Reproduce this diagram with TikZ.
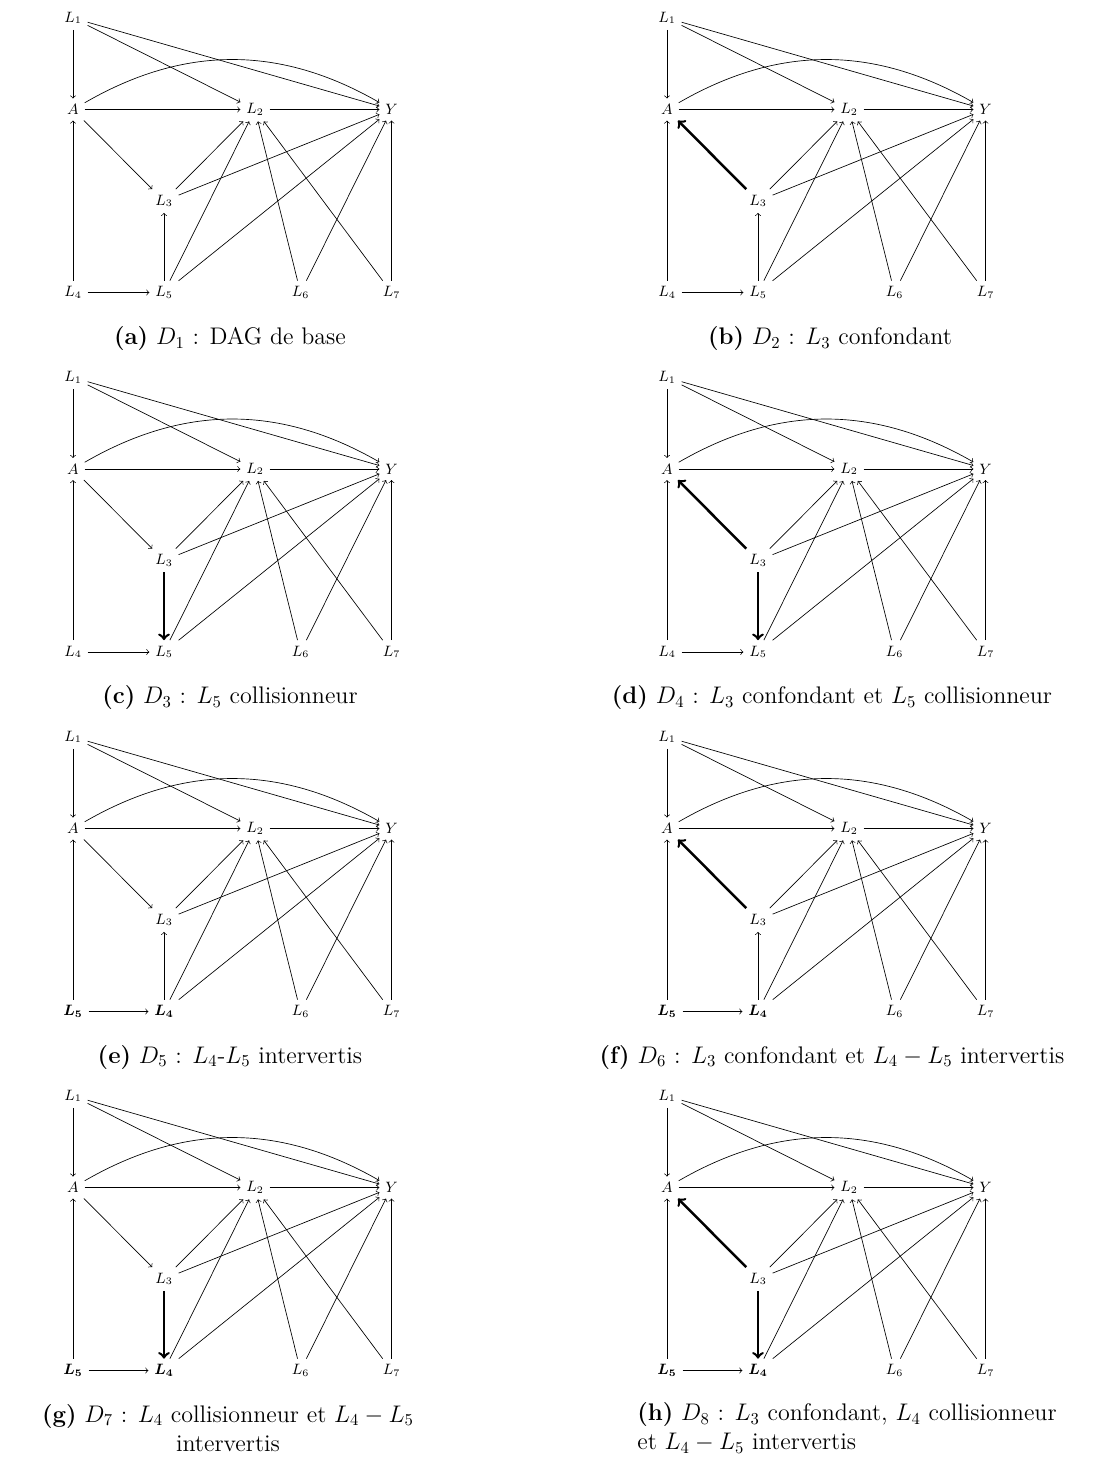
\documentclass[tikz,border=0pt]{standalone}
\usepackage{bm}
\usetikzlibrary{arrows}
\tikzset{
  x=0.6pt, y=-0.6pt,
  var/.style={inner sep=0.3333em, font=\small},
  edge/.style={->, >=to, line width=0.4pt},
  strong/.style={->, >=to, line width=1.5pt},
  capt/.style={font=\fontsize{14.4}{17.4}\selectfont, inner sep=0pt}
}
\newcommand\dagpanel[6]{%
\begin{scope}[shift={(#2,#3)}]
  \node[var] (#1L1) at (0,0) {$L_1$};
  \node[var] (#1A)  at (0,91.5) {$A$};
  \node[var] (#1L2) at (182,91.5) {$L_2$};
  \node[var] (#1Y)  at (318.5,91.5) {$Y$};
  \node[var] (#1L3) at (91,183) {$L_3$};
  \ifnum#6=1
    \node[var] (#1B1) at (0,274.5) {$\bm{L_5}$};
    \node[var] (#1B2) at (91,274.5) {$\bm{L_4}$};
  \else
    \node[var] (#1B1) at (0,274.5) {$L_4$};
    \node[var] (#1B2) at (91,274.5) {$L_5$};
  \fi
  \node[var] (#1L6) at (227.5,274.5) {$L_6$};
  \node[var] (#1L7) at (318.5,274.5) {$L_7$};
  \draw[edge] (#1L1) -- (#1A);
  \draw[edge] (#1L1) -- (#1L2);
  \draw[edge] (#1L1) -- (#1Y);
  \draw[edge] (#1A) -- (#1L2);
  \draw[edge] (#1A) to[bend left=30] (#1Y);
  \draw[edge] (#1L2) -- (#1Y);
  \draw[edge] (#1L3) -- (#1L2);
  \draw[edge] (#1L3) -- (#1Y);
  \draw[edge] (#1B1) -- (#1A);
  \draw[edge] (#1B1) -- (#1B2);
  \draw[edge] (#1B2) -- (#1L2);
  \draw[edge] (#1B2) -- (#1Y);
  \draw[edge] (#1L6) -- (#1L2);
  \draw[edge] (#1L6) -- (#1Y);
  \draw[edge] (#1L7) -- (#1L2);
  \draw[edge] (#1L7) -- (#1Y);
  \ifnum#4=1
    \draw[strong] (#1L3) -- (#1A);
  \else
    \draw[edge] (#1A) -- (#1L3);
  \fi
  \ifnum#5=1
    \draw[strong] (#1L3) -- (#1B2);
  \else
    \draw[edge] (#1B2) -- (#1L3);
  \fi
\end{scope}}
\begin{document}
\begin{tikzpicture}
\useasboundingbox (0,0) rectangle (1115,1460);
\dagpanel{a}{73}{18}{0}{0}{0}
\dagpanel{b}{667}{18}{1}{0}{0}
\dagpanel{c}{73}{377.5}{0}{1}{0}
\dagpanel{d}{667}{377.5}{1}{1}{0}
\dagpanel{e}{73}{737}{0}{0}{1}
\dagpanel{f}{667}{737}{1}{0}{1}
\dagpanel{g}{73}{1096}{0}{1}{1}
\dagpanel{h}{667}{1096}{1}{1}{1}
\node[capt] (capa) at (230,339) {\textbf{(a)} $D_1$ : DAG de base};
\node[capt] (capb) at (830,339) {\textbf{(b)} $D_2$ : $L_3$ confondant};
\node[capt] (capc) at (230,698) {\textbf{(c)} $D_3$ : $L_5$ collisionneur};
\node[capt] (capd) at (832,698) {\textbf{(d)} $D_4$ : $L_3$ confondant et $L_5$ collisionneur};
\node[capt] (cape) at (230,1057) {\textbf{(e)} $D_5$ : $L_4$-$L_5$ intervertis};
\node[capt] (capf) at (832,1057) {\textbf{(f)} $D_6$ : $L_3$ confondant et $L_4-L_5$ intervertis};
\node[capt, align=center] (capg) at (228,1428) {\textbf{(g)} $D_7$ : $L_4$ collisionneur et $L_4-L_5$\\intervertis};
\node[capt, align=left, anchor=west] (caph) at (637,1428) {\textbf{(h)} $D_8$ : $L_3$ confondant, $L_4$ collisionneur\\et $L_4-L_5$ intervertis};
\end{tikzpicture}
\end{document}
